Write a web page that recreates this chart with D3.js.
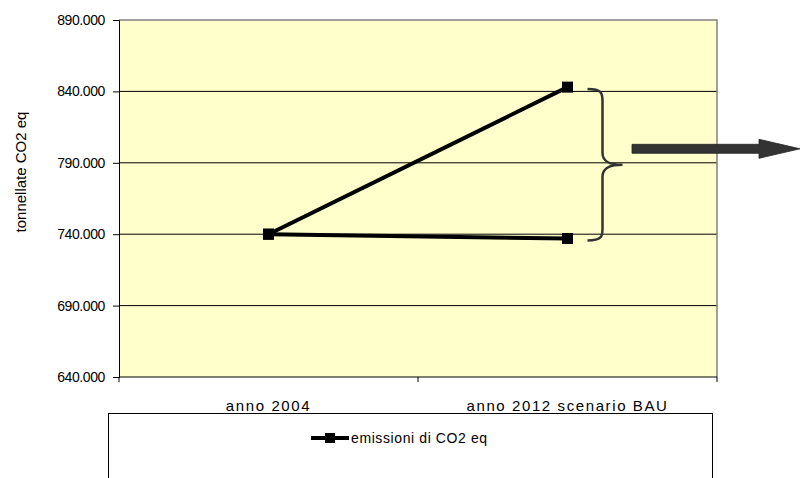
<!DOCTYPE html>
<html>
<head>
<meta charset="utf-8">
<script src="https://cdn.jsdelivr.net/npm/d3@7"></script>
<style>
  html, body { margin: 0; padding: 0; background: #fff; }
  svg { display: block; font-family: "Liberation Sans", Arial, sans-serif; }
</style>
</head>
<body>
<svg id="chart" width="800" height="478"></svg>
<script>
// Categories and values
const categories = ["anno 2004", "anno 2012 scenario BAU"];
const emissioni = [740000, 843000];       // emissioni di CO2 eq (scenario BAU)
const stabile = [740000, 737000];         // livello costante di riferimento
const yTicks = [640000, 690000, 740000, 790000, 840000, 890000];
const yTitle = "tonnellate CO2 eq";
const legendLabel = "emissioni di CO2 eq";

const svg = d3.select("#chart");
const plot = { left: 119, right: 717, top: 20, bottom: 377 };

const it = d3.formatLocale({ decimal: ",", thousands: ".", grouping: [3], currency: ["€", ""] });
const fmtTick = v => it.format(",")(v / 1000) + ".000";

const y = d3.scaleLinear().domain([640000, 890000]).range([plot.bottom, plot.top]);
const xBand = d3.scaleBand().domain(categories).range([plot.left, plot.right]);
const x = c => xBand(c) + xBand.bandwidth() / 2;

// Plot area background
svg.append("rect")
  .attr("x", plot.left).attr("y", plot.top)
  .attr("width", plot.right - plot.left).attr("height", plot.bottom - plot.top)
  .attr("fill", "#FFFFCC");

// Horizontal gridlines
svg.append("g").selectAll("line")
  .data(yTicks.filter(v => v > 640000 && v < 890000))
  .join("line")
  .attr("x1", plot.left).attr("x2", plot.right)
  .attr("y1", d => y(d)).attr("y2", d => y(d))
  .attr("stroke", "#000").attr("stroke-width", 1);

// Top and right frame
svg.append("path")
  .attr("d", `M${plot.left},${plot.top}H${plot.right}V${plot.bottom}`)
  .attr("fill", "none").attr("stroke", "#808080").attr("stroke-width", 1.5);

// Y axis
const yAxis = d3.axisLeft(y).tickValues(yTicks).tickFormat(fmtTick).tickSize(6).tickPadding(8);
const gy = svg.append("g").attr("transform", `translate(${plot.left},0)`).call(yAxis);
gy.attr("font-size", null).attr("font-family", null);
gy.select(".domain").attr("stroke", "#000");
gy.selectAll(".tick line").attr("stroke", "#000");
gy.selectAll("text")
  .style("font-size", "14px").style("letter-spacing", "-0.4px")
  .attr("fill", "#000");

// X axis with ticks at category boundaries
svg.append("line")
  .attr("x1", plot.left).attr("x2", plot.right)
  .attr("y1", plot.bottom).attr("y2", plot.bottom)
  .attr("stroke", "#000");
const bounds = [plot.left, ...categories.map(c => xBand(c) + xBand.bandwidth())];
svg.append("g").selectAll("line").data(bounds).join("line")
  .attr("x1", d => d).attr("x2", d => d)
  .attr("y1", plot.bottom).attr("y2", plot.bottom + 5)
  .attr("stroke", "#000");
svg.append("g").selectAll("text").data(categories).join("text")
  .attr("x", d => x(d)).attr("y", 411)
  .attr("text-anchor", "middle").attr("fill", "#000")
  .style("font-size", "15px").style("letter-spacing", "1.6px")
  .text(d => d);

// Y axis title
svg.append("text")
  .attr("transform", "translate(26,172) rotate(-90)")
  .attr("text-anchor", "middle").attr("fill", "#000")
  .style("font-size", "15px")
  .text(yTitle);

// Series lines and markers
const line = d3.line().x((d, i) => x(categories[i])).y(d => y(d));
[emissioni, stabile].forEach(series => {
  svg.append("path").datum(series)
    .attr("d", line).attr("fill", "none")
    .attr("stroke", "#000").attr("stroke-width", 4);
  svg.append("g").selectAll("rect").data(series).join("rect")
    .attr("x", (d, i) => x(categories[i]) - 5.5)
    .attr("y", d => y(d) - 5.5)
    .attr("width", 11).attr("height", 11)
    .attr("fill", "#000");
});

// Brace spanning the gap between the two 2012 values
const bx = x(categories[1]) + 20;
const bTop = y(emissioni[1]) + 2, bBot = y(stabile[1]) + 2;
const bMid = (bTop + bBot) / 2;
const bw = 16, r = 12;
svg.append("path")
  .attr("d",
    `M${bx},${bTop} C${bx + bw * 0.9},${bTop} ${bx + bw - 1},${bTop + 4} ${bx + bw - 1},${bTop + r}` +
    ` L${bx + bw - 1},${bMid - r}` +
    ` C${bx + bw - 1},${bMid - 2} ${bx + bw + 8},${bMid} ${bx + bw + 19},${bMid}` +
    ` C${bx + bw + 8},${bMid} ${bx + bw - 1},${bMid + 2} ${bx + bw - 1},${bMid + r}` +
    ` L${bx + bw - 1},${bBot - r}` +
    ` C${bx + bw - 1},${bBot - 4} ${bx + bw * 0.9},${bBot} ${bx},${bBot}`)
  .attr("fill", "none").attr("stroke", "#333").attr("stroke-width", 2.5);

// Arrow pointing right
const ay = bMid - 16;
svg.append("path")
  .attr("d", `M632,${ay - 4.5}H759V${ay - 9.5}L800,${ay}L759,${ay + 9.5}V${ay + 4.5}H632Z`)
  .attr("fill", "#333").attr("stroke", "#222").attr("stroke-width", 0.8);

// Legend
svg.append("rect")
  .attr("x", 108.5).attr("y", 413.5).attr("width", 604).attr("height", 80)
  .attr("fill", "#fff").attr("stroke", "#000").attr("stroke-width", 1);
svg.append("line")
  .attr("x1", 311).attr("x2", 349).attr("y1", 438).attr("y2", 438)
  .attr("stroke", "#000").attr("stroke-width", 4);
svg.append("rect")
  .attr("x", 325).attr("y", 433).attr("width", 10).attr("height", 10).attr("fill", "#000");
svg.append("text")
  .attr("x", 351).attr("y", 443).attr("fill", "#000")
  .style("font-size", "14px").style("letter-spacing", "0.6px")
  .text(legendLabel);
</script>
</body>
</html>
